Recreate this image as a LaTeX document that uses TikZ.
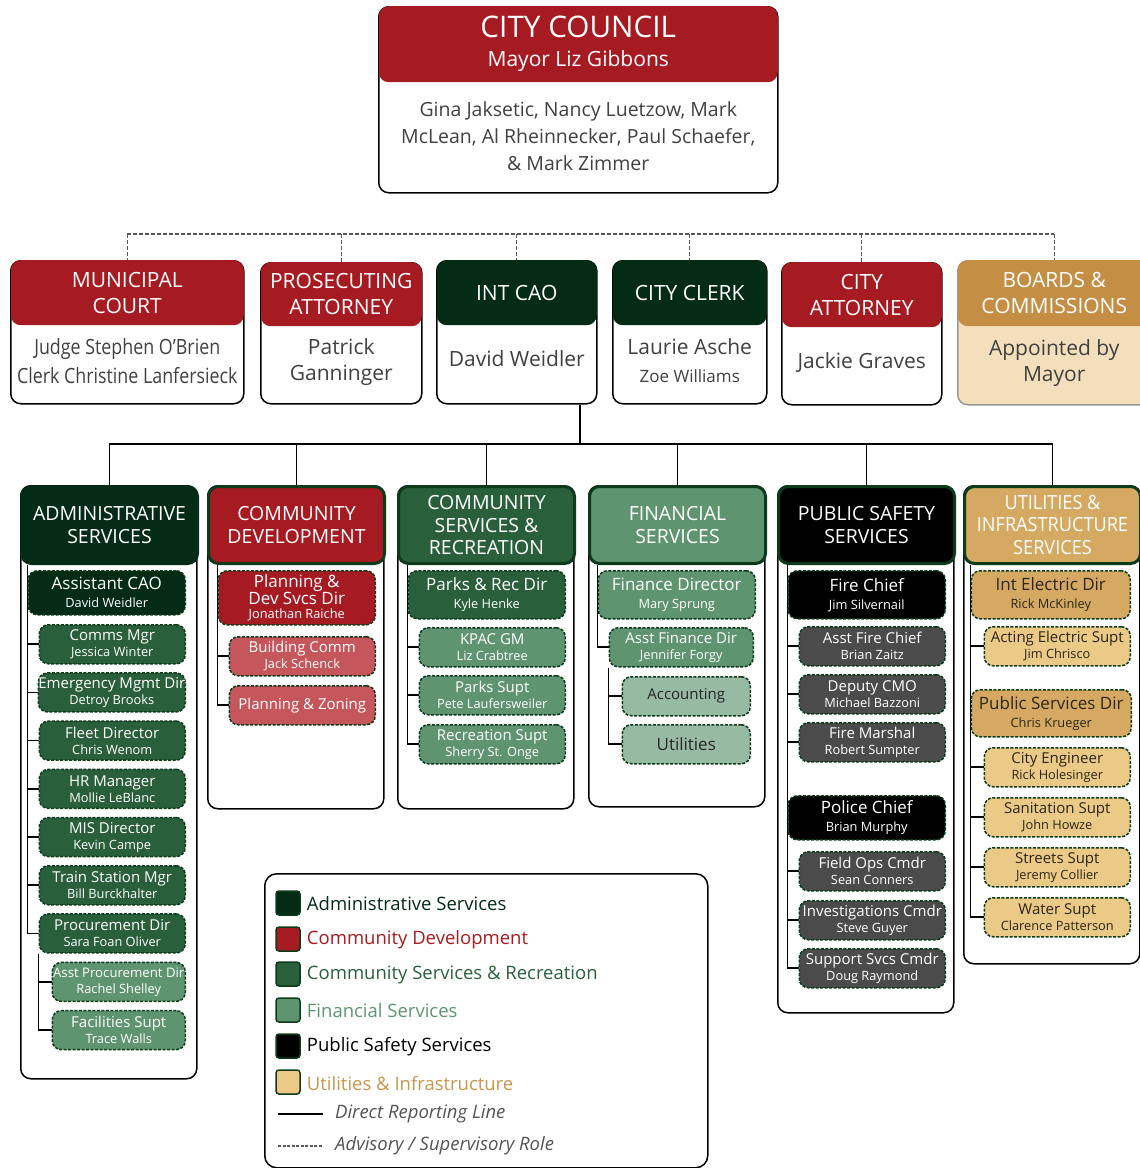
\documentclass[tikz,border=0pt]{standalone}
\usepackage{fontspec}
\setmainfont{Open Sans}
\newfontfamily\narrowfont[FakeStretch=0.85]{Open Sans}
\newfontfamily\condensed[FakeStretch=0.93]{Open Sans}
\usetikzlibrary{positioning,calc,backgrounds}

\definecolor{admC}{HTML}{032B15}
\definecolor{cdC}{HTML}{A61B22}
\definecolor{cdlight}{HTML}{C4565C}
\definecolor{csrC}{HTML}{2A5F3B}
\definecolor{finC}{HTML}{5F9470}
\definecolor{finlight}{HTML}{97BAA2}
\definecolor{psgrey}{HTML}{4B4B4B}
\definecolor{utC}{HTML}{D5A961}
\definecolor{utlight}{HTML}{EBC987}
\definecolor{uttext}{HTML}{2B2616}
\definecolor{legut}{HTML}{C9954B}
\definecolor{boardC}{HTML}{C48E45}
\definecolor{boardlight}{HTML}{F3DFBC}
\definecolor{edgeC}{HTML}{0E3A1C}
\definecolor{bodyC}{HTML}{404040}

\newcommand\hugefs{\fontsize{29.7}{33}\selectfont}
\newcommand\mayorfs{\fontsize{21}{29}\selectfont}
\newcommand\councilfs{\fontsize{19.5}{27}\selectfont}
\newcommand\topfs{\fontsize{21}{26}\selectfont}
\newcommand\colfs{\fontsize{19.5}{23}\selectfont}
\newcommand\dirfs{\fontsize{17}{18}\selectfont}
\newcommand\subfs{\fontsize{15}{16}\selectfont}
\newcommand\legfs{\fontsize{18.5}{22}\selectfont}

\begin{document}
\begin{tikzpicture}
	[x=1pt,y=-1pt,
		topbox/.style={draw=black,line width=1.5pt,rounded corners=10pt,inner sep=0pt},
		tophead/.style={fill=#1,rounded corners=10pt,text=white,align=center,inner sep=0pt,font=\topfs},
		topbody/.style={text=bodyC,align=center,inner sep=0pt,font=\topfs},
		colbox/.style={draw=black,line width=1.5pt,rounded corners=10pt,inner sep=0pt,minimum width=176pt},
		colhead/.style={fill=#1,draw=edgeC,line width=3pt,rounded corners=10pt,text=white,align=center,
			inner sep=0pt,font=\colfs,minimum width=176pt,minimum height=77pt},
		itembox/.style={fill=#1,draw=edgeC,line width=1.5pt,dash pattern=on 3pt off 1.5pt,
			rounded corners=9pt,align=center,text=white,inner sep=0pt},
		dirbox/.style={itembox=#1,minimum width=157pt,minimum height=48pt,font=\fontsize{12.8}{18}\selectfont},
		subbox/.style={itembox=#1,minimum width=146pt,minimum height=39pt,font=\fontsize{12.8}{16}\selectfont},
		direct/.style={draw=black,line width=1.6pt},
		advisory/.style={draw=black!65,line width=1.2pt,dash pattern=on 4pt off 2pt},
		swatch/.style={draw=edgeC,line width=1.5pt,rounded corners=3pt,minimum size=24pt,inner sep=0pt},
		legtext/.style={font=\legfs,inner sep=0pt},
		legnote/.style={font=\legfs\itshape,text=bodyC!90,inner sep=0pt,anchor=west}]

	\useasboundingbox (0,0) rectangle (1140,1168);
	\clip (0,0) rectangle (1140,1168);

	% council
	\node[topbox,minimum width=399pt,minimum height=186pt,anchor=north west] (council) at (378,6) {};
	\node[tophead=cdC,minimum width=399pt,minimum height=76pt,anchor=north,font=\mayorfs] (councilhd) at (council.north)
		{{\hugefs CITY COUNCIL}\\Mayor Liz Gibbons};
	\node[topbody,font=\councilfs,yshift=2pt] (councilbd) at ($(councilhd.south)!0.5!(council.south)$)
		{Gina Jaksetic, Nancy Luetzow, Mark\\McLean, Al Rheinnecker, Paul Schaefer,\\\& Mark Zimmer};

	% top row
	\node[topbox,minimum width=233pt,minimum height=143pt,anchor=north west] (court) at (10,260) {};
	\node[tophead=cdC,minimum width=233pt,minimum height=65pt,anchor=north] (courthd) at (court.north) {MUNICIPAL\\COURT};
	\node[topbody,font=\topfs\narrowfont,yshift=4pt] (courtbd) at ($(courthd.south)!0.5!(court.south)$)
		{Judge Stephen O’Brien\\[3pt]Clerk Christine Lanfersieck};

	\node[topbox,minimum width=161pt,minimum height=141pt,anchor=north west] (pros) at (260,262) {};
	\node[tophead=cdC,minimum width=161pt,minimum height=64pt,anchor=north] (proshd) at (pros.north) {PROSECUTING\\ATTORNEY};
	\node[topbody,yshift=3pt] (prosbd) at ($(proshd.south)!0.5!(pros.south)$) {Patrick\\Ganninger};

	\node[topbox,minimum width=160pt,minimum height=143pt,anchor=north west] (cao) at (436,260) {};
	\node[tophead=admC,minimum width=160pt,minimum height=65pt,anchor=north] (caohd) at (cao.north) {INT CAO};
	\node[topbody,yshift=6pt] (caobd) at ($(caohd.south)!0.5!(cao.south)$) {David Weidler};

	\node[topbox,minimum width=154pt,minimum height=143pt,anchor=north west] (clerk) at (612,260) {};
	\node[tophead=admC,minimum width=154pt,minimum height=65pt,anchor=north] (clerkhd) at (clerk.north) {CITY CLERK};
	\node[topbody,yshift=4pt] (clerkbd) at ($(clerkhd.south)!0.5!(clerk.south)$)
		{Laurie Asche\\[2pt]{\fontsize{17}{20}\selectfont Zoe Williams}};

	\node[topbox,minimum width=160pt,minimum height=142pt,anchor=north west] (atty) at (781,262) {};
	\node[tophead=cdC,minimum width=160pt,minimum height=65pt,anchor=north] (attyhd) at (atty.north) {CITY\\ATTORNEY};
	\node[topbody,yshift=4pt] (attybd) at ($(attyhd.south)!0.5!(atty.south)$) {Jackie Graves};

	\node[topbox,fill=boardlight,draw=black!40,minimum width=193pt,minimum height=144pt,anchor=north west] (boards) at (957,260) {};
	\node[tophead=boardC,minimum width=193pt,minimum height=66pt,anchor=north] (boardshd) at (boards.north) {BOARDS \&\\COMMISSIONS};
	\node[topbody,yshift=3pt] (boardsbd) at ($(boardshd.south)!0.5!(boards.south)$) {Appointed by\\Mayor};

	% department columns
	\node[colbox,minimum height=593pt,anchor=north west] (admbox) at (20,485) {};
	\node[colhead=admC,draw=admC,anchor=north west] (adm) at (20,485) {ADMINISTRATIVE\\SERVICES};
	\node[colbox,minimum height=323pt,anchor=north west] (cdbox) at (207,485) {};
	\node[colhead=cdC,anchor=north west] (cd) at (207,485) {COMMUNITY\\DEVELOPMENT};
	\node[colbox,minimum height=323pt,anchor=north west] (csrbox) at (397,485) {};
	\node[colhead=csrC,anchor=north west] (csr) at (397,485) {COMMUNITY\\SERVICES \&\\[-0.5pt]RECREATION};
	\node[colbox,minimum height=321pt,anchor=north west] (finbox) at (588,485) {};
	\node[colhead=finC,anchor=north west] (fin) at (588,485) {FINANCIAL\\SERVICES};
	\node[colbox,minimum height=527pt,anchor=north west] (psbox) at (777,485) {};
	\node[colhead=black,anchor=north west] (ps) at (777,485) {PUBLIC SAFETY\\SERVICES};
	\node[colbox,minimum height=478pt,anchor=north west] (utbox) at (963,485) {};
	\node[colhead=utC,anchor=north west,font=\colfs\condensed] (ut) at (963,485) {UTILITIES \&\\[-0.5pt]INFRASTRUCTURE\\[-0.5pt]SERVICES};

	% administrative services
	\node[dirbox=admC,minimum height=44pt,anchor=north east] (acao) at (186,570) {{\dirfs Assistant CAO}\\David Weidler};
	\node[subbox=csrC,below=8.5pt of acao.south east,anchor=north east] (comms) {{\subfs Comms Mgr}\\Jessica Winter};
	\node[subbox=csrC,below=7.7pt of comms.south east,anchor=north east] (emerg) {{\subfs Emergency Mgmt Dir}\\Detroy Brooks};
	\node[subbox=csrC,below=7.7pt of emerg.south east,anchor=north east] (fleet) {{\subfs Fleet Director}\\Chris Wenom};
	\node[subbox=csrC,below=7.7pt of fleet.south east,anchor=north east] (hr) {{\subfs HR Manager}\\Mollie LeBlanc};
	\node[subbox=csrC,below=7.7pt of hr.south east,anchor=north east] (mis) {{\subfs MIS Director}\\Kevin Campe};
	\node[subbox=csrC,below=7.7pt of mis.south east,anchor=north east] (train) {{\subfs Train Station Mgr}\\Bill Burckhalter};
	\node[subbox=csrC,below=7.7pt of train.south east,anchor=north east] (proc) {{\subfs Procurement Dir}\\Sara Foan Oliver};
	\node[subbox=finC,minimum width=133pt,below=8pt of proc.south east,anchor=north east] (asstproc)
		{{\fontsize{13.2}{16}\selectfont Asst Procurement Dir}\\Rachel Shelley};
	\node[subbox=finC,minimum width=133pt,below=7.7pt of asstproc.south east,anchor=north east] (facil) {{\subfs Facilities Supt}\\Trace Walls};

	% community development
	\node[dirbox=cdC,minimum height=54pt,anchor=north east,font=\fontsize{12.8}{17}\selectfont] (plan) at (376,570)
		{{\dirfs Planning \&}\\{\dirfs Dev Svcs Dir}\\[-2.5pt]Jonathan Raiche};
	\node[subbox=cdlight,anchor=north east] (bldg) at (376,636) {{\subfs Building Comm}\\Jack Schenck};
	\node[subbox=cdlight,below=8.5pt of bldg.south east,anchor=north east] (zoning) {\subfs Planning \& Zoning};

	% community services & recreation
	\node[dirbox=csrC,anchor=north east] (parks) at (566,570) {{\dirfs Parks \& Rec Dir}\\Kyle Henke};
	\node[subbox=finC,below=7.5pt of parks.south east,anchor=north east] (kpac) {{\subfs KPAC GM}\\Liz Crabtree};
	\node[subbox=finC,below=7.5pt of kpac.south east,anchor=north east] (pksupt) {{\subfs Parks Supt}\\Pete Laufersweiler};
	\node[subbox=finC,below=8.5pt of pksupt.south east,anchor=north east] (rec) {{\subfs Recreation Supt}\\Sherry St. Onge};

	% financial services
	\node[dirbox=finC,anchor=north east] (findir) at (756,570) {{\dirfs Finance Director}\\Mary Sprung};
	\node[subbox=finC,minimum width=144pt,anchor=north east] (asstfin) at (754,627) {{\subfs Asst Finance Dir}\\Jennifer Forgy};
	\node[subbox=finlight,text=black!85,minimum width=128pt,anchor=north east] (acct) at (751,676) {\subfs Accounting};
	\node[subbox=finlight,text=black!85,minimum width=128pt,below=7.5pt of acct.south east,anchor=north east] (util) {\dirfs Utilities};

	% public safety services
	\node[dirbox=black,anchor=north east] (fire) at (946,570) {{\dirfs Fire Chief}\\Jim Silvernail};
	\node[subbox=psgrey,below=6.5pt of fire.south east,anchor=north east] (afc) {{\subfs Asst Fire Chief}\\Brian Zaitz};
	\node[subbox=psgrey,below=7.5pt of afc.south east,anchor=north east] (dcmo) {{\subfs Deputy CMO}\\Michael Bazzoni};
	\node[subbox=psgrey,below=7.5pt of dcmo.south east,anchor=north east] (marshal) {{\subfs Fire Marshal}\\Robert Sumpter};
	\node[dirbox=black,minimum height=44pt,anchor=north east] (police) at (946,795) {{\dirfs Police Chief}\\Brian Murphy};
	\node[subbox=psgrey,below=10.5pt of police.south east,anchor=north east] (fieldops) {{\subfs Field Ops Cmdr}\\Sean Conners};
	\node[subbox=psgrey,below=8.5pt of fieldops.south east,anchor=north east] (invest) {{\subfs Investigations Cmdr}\\Steve Guyer};
	\node[subbox=psgrey,below=7.5pt of invest.south east,anchor=north east] (support) {{\subfs Support Svcs Cmdr}\\Doug Raymond};

	% utilities & infrastructure
	\node[dirbox=utC,text=uttext,minimum width=159pt,anchor=north east] (intel) at (1131,570) {{\dirfs Int Electric Dir}\\Rick McKinley};
	\node[subbox=utlight,text=uttext,below=6.5pt of intel.south east,anchor=north east] (acting) {{\subfs Acting Electric Supt}\\Jim Chrisco};
	\node[dirbox=utC,text=uttext,minimum width=160pt,minimum height=47pt,anchor=north east] (pubsvc) at (1132,689)
		{{\dirfs Public Services Dir}\\Chris Krueger};
	\node[subbox=utlight,text=uttext,anchor=north east] (cityeng) at (1131,747) {{\subfs City Engineer}\\Rick Holesinger};
	\node[subbox=utlight,text=uttext,below=9.5pt of cityeng.south east,anchor=north east] (sanit) {{\subfs Sanitation Supt}\\John Howze};
	\node[subbox=utlight,text=uttext,below=9.5pt of sanit.south east,anchor=north east] (streets) {{\subfs Streets Supt}\\Jeremy Collier};
	\node[subbox=utlight,text=uttext,below=9.5pt of streets.south east,anchor=north east] (water) {{\subfs Water Supt}\\Clarence Patterson};

	% legend
	\node[draw=black,line width=1.5pt,rounded corners=12pt,minimum width=443pt,minimum height=294pt,anchor=north west] (legend) at (264,873) {};
	\foreach \n/\f/\t/\yy/\lab in {a/admC/admC/903/Administrative Services,
			b/cdC/cdC/939/Community Development,
			c/csrC/csrC/974/Community Services \& Recreation,
			d/finC/finC/1010/Financial Services,
			e/black/black/1046/Public Safety Services,
			f/utlight/legut/1082/Utilities \& Infrastructure}
		{
			\node[swatch,fill=\f] (sw\n) at (288,\yy) {};
			\node[legtext,text=\t,right=6pt of sw\n,yshift=-1pt] (lt\n) {\lab};
		}
	\coordinate (dA) at (278,1114);
	\coordinate (dB) at (323,1114);
	\coordinate (aA) at (278,1146);
	\coordinate (aB) at (323,1146);
	\draw[direct,line width=1.2pt] (dA) -- (dB);
	\draw[advisory,dash pattern=on 3pt off 1.5pt] (aA) -- (aB);
	\node[legnote] (dtxt) at (335,1114) {Direct Reporting Line};
	\node[legnote] (atxt) at (335,1146) {Advisory / Supervisory Role};

	% reporting lines
	\begin{scope}[on background layer]
		\coordinate (adv) at (127,234);
		\draw[advisory] (court.north |- adv) -- (boards.north |- adv);
		\foreach \b in {court,pros,cao,clerk,atty,boards}
			\draw[advisory] (\b.north |- adv) -- (\b.north);

		\coordinate (hub) at (580,444);
		\draw[direct] (hub |- cao.south) -- (hub);
		\foreach \c in {adm,cd,csr,fin,ps,ut}
			\draw[direct] (hub) -| (\c.north);

		\foreach \i in {comms,emerg,fleet,hr,mis,train,proc}
			\draw[direct] (adm.south -| acao.west) |- (\i.west);
		\foreach \i in {asstproc,facil}
			\draw[direct] (proc.south west) |- (\i.west);

		\foreach \i in {bldg,zoning}
			\draw[direct] (cd.south -| plan.west) |- (\i.west);

		\foreach \i in {kpac,pksupt,rec}
			\draw[direct] (csr.south -| parks.west) |- (\i.west);

		\draw[direct] (fin.south -| findir.west) |- (asstfin.west);
		\foreach \i in {acct,util}
			\draw[direct] (asstfin.south west) |- (\i.west);

		\foreach \i in {afc,dcmo,marshal,fieldops,invest,support}
			\draw[direct] (ps.south -| fire.west) |- (\i.west);

		\foreach \i in {acting,cityeng,sanit,streets,water}
			\draw[direct] (ut.south -| intel.west) |- (\i.west);
	\end{scope}

\end{tikzpicture}
\end{document}
